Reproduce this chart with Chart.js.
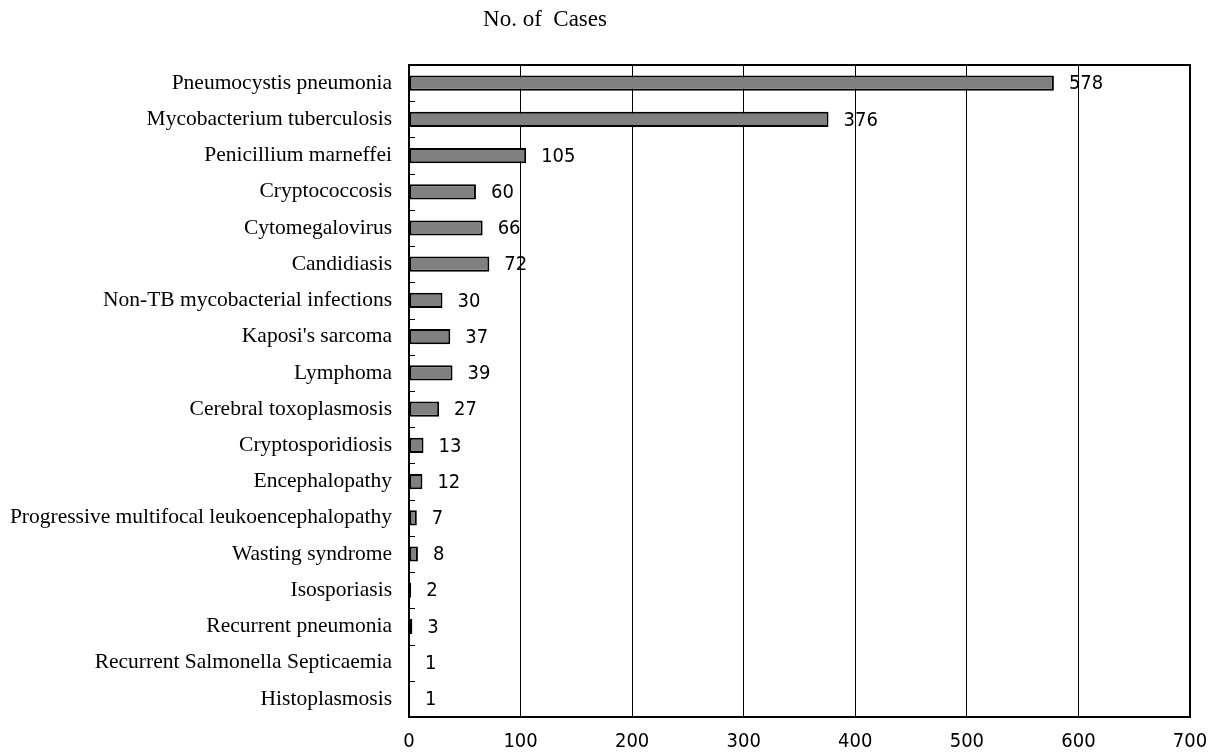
<!DOCTYPE html>
<html>
<head>
<meta charset="utf-8">
<script src="https://cdn.jsdelivr.net/npm/chart.js@4/dist/chart.umd.min.js"></script>
<style>
  html, body { margin: 0; padding: 0; background: #fff; }
  #wrap { width: 1217px; height: 755px; }
</style>
</head>
<body>
<div id="wrap"><canvas id="casesChart"></canvas></div>
<script>
const categories = [
  "Pneumocystis pneumonia",
  "Mycobacterium tuberculosis",
  "Penicillium marneffei",
  "Cryptococcosis",
  "Cytomegalovirus",
  "Candidiasis",
  "Non-TB mycobacterial infections",
  "Kaposi's sarcoma",
  "Lymphoma",
  "Cerebral toxoplasmosis",
  "Cryptosporidiosis",
  "Encephalopathy",
  "Progressive multifocal leukoencephalopathy",
  "Wasting syndrome",
  "Isosporiasis",
  "Recurrent pneumonia",
  "Recurrent Salmonella Septicaemia",
  "Histoplasmosis",
];
const cases = [578, 376, 105, 60, 66, 72, 30, 37, 39, 27, 13, 12, 7, 8, 2, 3, 1, 1];
const xTicks = [0, 100, 200, 300, 400, 500, 600, 700];
const titleText = "No. of  Cases";

const SERIF = "'Liberation Serif', 'Times New Roman', serif";
const NARROW = "'Liberation Sans Narrow', 'Arial Narrow', 'DejaVu Sans Condensed', sans-serif";

// frame, inner category ticks, value labels and the title
const decorations = {
  id: "decorations",
  afterDatasetsDraw(chart) {
    const { ctx, chartArea: a } = chart;
    const y = chart.scales.y;
    const meta = chart.getDatasetMeta(0);
    ctx.save();

    // value labels to the right of each bar
    ctx.fillStyle = "#000";
    ctx.font = "20px " + NARROW;
    ctx.textAlign = "left";
    ctx.textBaseline = "middle";
    meta.data.forEach((bar, i) => {
      ctx.fillText(String(cases[i]), bar.x + 15, bar.y + 1);
    });

    // short ticks between categories, inside the plot
    ctx.strokeStyle = "#000";
    ctx.lineWidth = 1;
    for (let i = 1; i < categories.length; i++) {
      const py = Math.round((y.getPixelForValue(i - 1) + y.getPixelForValue(i)) / 2) + 0.5;
      ctx.beginPath();
      ctx.moveTo(a.left, py);
      ctx.lineTo(a.left + 6, py);
      ctx.stroke();
    }

    // plot frame
    ctx.lineWidth = 2;
    ctx.strokeRect(a.left, a.top, a.right - a.left, a.bottom - a.top);

    // title
    ctx.font = "23px " + SERIF;
    ctx.textAlign = "center";
    ctx.textBaseline = "middle";
    ctx.fillText(titleText, a.left + 136, 20);
    ctx.restore();
  },
};

new Chart(document.getElementById("casesChart"), {
  type: "bar",
  data: {
    labels: categories,
    datasets: [{
      data: cases,
      backgroundColor: "#808080",
      borderColor: "#000",
      borderWidth: 2,
      borderSkipped: false,
      categoryPercentage: 0.84,
      barPercentage: 0.5,
    }],
  },
  options: {
    indexAxis: "y",
    responsive: true,
    maintainAspectRatio: false,
    animation: false,
    layout: { padding: { top: 65, right: 27, left: 0, bottom: 0 } },
    scales: {
      x: {
        min: 0,
        max: 700,
        afterBuildTicks: (scale) => { scale.ticks = xTicks.map((v) => ({ value: v })); },
        afterFit: (scale) => {
          scale.height = 38;
          scale.paddingLeft = 0;
          scale.paddingRight = 0;
        },
        grid: { color: "#000", lineWidth: 1, drawTicks: false },
        border: { display: false },
        ticks: { color: "#000", padding: 13, font: { family: NARROW, size: 20 } },
      },
      y: {
        afterFit: (scale) => { scale.width = 409; },
        grid: { display: false, drawTicks: false },
        border: { display: false },
        ticks: { color: "#000", padding: 17, autoSkip: false, font: { family: SERIF, size: 21.5 } },
      },
    },
    plugins: {
      legend: { display: false },
      tooltip: { enabled: false },
    },
  },
  plugins: [decorations],
});
</script>
</body>
</html>
